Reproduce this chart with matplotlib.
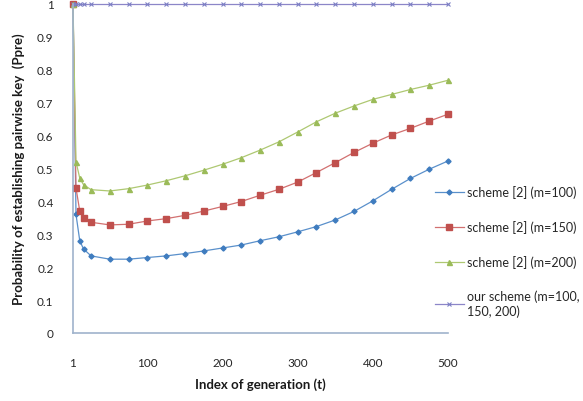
import matplotlib
matplotlib.use("Agg")
import matplotlib.pyplot as plt

plt.rcParams['font.family'] = ['Lato', 'DejaVu Sans']

# Generation index at which each probability was evaluated
t = [1, 5, 10, 15, 25, 50, 75, 100, 125, 150, 175, 200, 225, 250,
     275, 300, 325, 350, 375, 400, 425, 450, 475, 500]

p_m100 = [1.0, 0.36, 0.28, 0.255, 0.234, 0.224, 0.224, 0.229, 0.234, 0.241,
          0.249, 0.258, 0.267, 0.28, 0.292, 0.307, 0.323, 0.343, 0.369,
          0.401, 0.436, 0.469, 0.497, 0.522]
p_m150 = [1.0, 0.44, 0.37, 0.35, 0.336, 0.328, 0.33, 0.34, 0.347, 0.357,
          0.37, 0.384, 0.399, 0.418, 0.436, 0.458, 0.487, 0.517, 0.548,
          0.576, 0.601, 0.621, 0.643, 0.664]
p_m200 = [1.0, 0.52, 0.47, 0.45, 0.435, 0.431, 0.438, 0.449, 0.462, 0.477,
          0.494, 0.512, 0.532, 0.555, 0.58, 0.61, 0.641, 0.667, 0.689,
          0.709, 0.724, 0.739, 0.752, 0.767]
p_ours = [1.0] * len(t)

labels = ["scheme [2] (m=100)", "scheme [2] (m=150)", "scheme [2] (m=200)",
          "our scheme (m=100,\n150, 200)"]
x_ticks = [1, 100, 200, 300, 400, 500]
y_ticks = [0, 0.1, 0.2, 0.3, 0.4, 0.5, 0.6, 0.7, 0.8, 0.9, 1]

fig = plt.figure(figsize=(5.83, 4.02), dpi=100)
ax = fig.add_axes([0.1252, 0.1692, 0.6432, 0.8196])

ax.plot(t, p_m100, color='#5A90CB', lw=0.9, marker='D', ms=2.6,
        mfc='#3F7CBF', mec='#3F7CBF', label=labels[0], clip_on=False)
ax.plot(t, p_m150, color='#D27070', lw=0.9, marker='s', ms=3.7,
        mfc='#C0504D', mec='#C0504D', label=labels[1], clip_on=False)
ax.plot(t, p_m200, color='#AEC872', lw=0.9, marker='^', ms=3.6,
        mfc='#9BBB59', mec='#9BBB59', label=labels[2], clip_on=False)
ax.plot(t, p_ours, color='#8C86C8', lw=0.9, marker='x', ms=3.2, mew=0.8,
        mec='#7B7FC4', label=labels[3], clip_on=False)

ax.set_xlim(1, 500)
ax.set_ylim(0, 1)
ax.set_xticks(x_ticks)
ax.set_xticklabels([str(v) for v in x_ticks])
ax.set_yticks(y_ticks)
ax.set_yticklabels(['0', '0.1', '0.2', '0.3', '0.4', '0.5', '0.6', '0.7',
                    '0.8', '0.9', '1'])
ax.tick_params(length=0, labelsize=8.5, labelcolor='#262626')
ax.tick_params(axis='y', pad=14)
ax.tick_params(axis='x', pad=17)

for side in ('top', 'right'):
    ax.spines[side].set_visible(False)
for side in ('left', 'bottom'):
    ax.spines[side].set_color('#9FB3CC')
    ax.spines[side].set_linewidth(1.2)

ax.set_xlabel("Index of generation (t)", fontsize=9.5, fontweight='bold',
              color='#1a1a1a', labelpad=7)
ax.set_ylabel("Probability of establishing pairwise key  (Ppre)",
              fontsize=9.5, fontweight='bold', color='#1a1a1a', labelpad=9)

ax.legend(loc='upper left', bbox_to_anchor=(0.735, 0.552),
          bbox_transform=fig.transFigure, frameon=False, fontsize=9,
          numpoints=1, handlelength=2.3, handletextpad=0.3,
          labelspacing=1.75, borderpad=0, labelcolor='#262626')

fig.savefig("out.png", dpi=100)
